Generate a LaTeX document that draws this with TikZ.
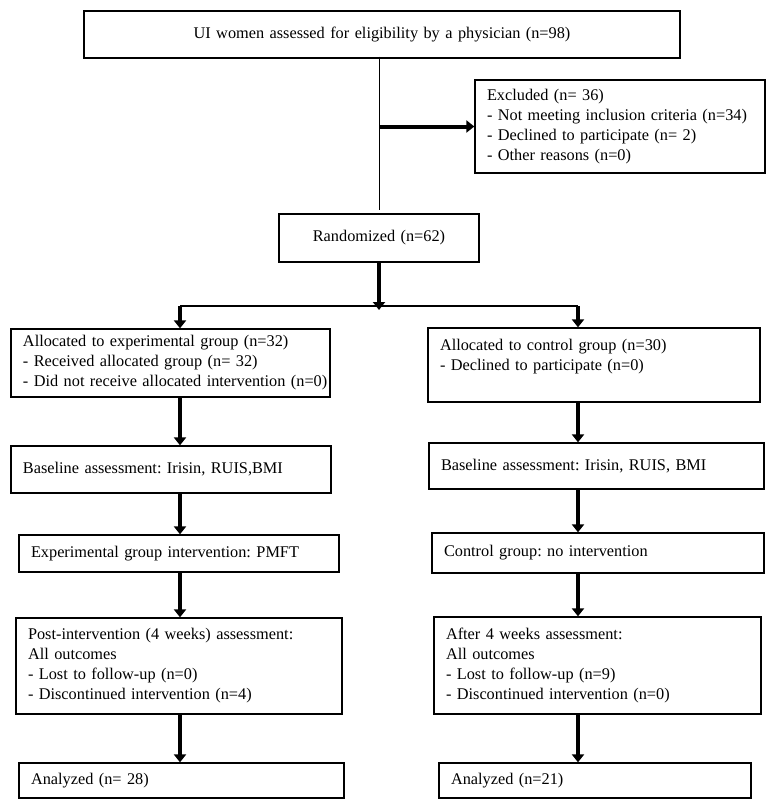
\documentclass[tikz,border=0pt]{standalone}
\usepackage{fontspec}
\setmainfont{Liberation Serif}
\usetikzlibrary{arrows.meta}
\frenchspacing
\begin{document}
\frenchspacing
\begin{tikzpicture}[x=1pt,y=-1pt,
  box/.style n args={3}{draw, line width=1.3pt, inner xsep=12pt, inner ysep=0pt,
    align=left, minimum width=#1pt, minimum height=#2pt, text width=#3pt,
    font=\fontsize{16.3}{20}\selectfont},
  arr/.style={line width=4pt, -{Triangle[length=8pt,width=12pt]}},
  thinline/.style={line width=1pt}]
\useasboundingbox (0,0) rectangle (772,809);

\node[box={596}{47}{572}, align=center] (top) at (382,34.5)
  {UI women assessed for eligibility by a physician (n=98)};
\node[box={290}{93}{266}] (excl) at (620,126.5)
  {Excluded (n= 36)\\\mbox{- Not meeting inclusion criteria (n=34)}\\- Declined to participate (n= 2)\\- Other reasons (n=0)};
\node[box={200}{48}{176}, align=center] (rand) at (379,238) {Randomized (n=62)};

\node[box={319}{68}{295}] (ae) at (170.5,363)
  {\mbox{Allocated to experimental group (n=32)}\\\mbox{- Received allocated group (n= 32)}\\\mbox{- Did not receive allocated intervention (n=0)}};
\node[box={332}{74}{308}] (ac) at (594,365)
  {Allocated to control group (n=30)\\- Declined to participate (n=0)\\\mbox{}};

\node[box={320}{47}{296}] (be) at (171,469.5) {Baseline assessment: Irisin, RUIS,BMI};
\node[box={335}{46}{311}] (bc) at (596.5,466) {Baseline assessment: Irisin, RUIS, BMI};

\node[box={320}{37}{296}] (ie) at (179,553.5) {Experimental group intervention: PMFT};
\node[box={332}{40}{308}] (ic) at (598,553) {Control group: no intervention};

\node[box={326}{96}{302}] (pe) at (179,666)
  {Post-intervention (4 weeks) assessment:\\All outcomes\\- Lost to follow-up (n=0)\\- Discontinued intervention (n=4)};
\node[box={327}{97}{303}] (pc) at (597.5,665.5)
  {After 4 weeks assessment:\\All outcomes\\- Lost to follow-up (n=9)\\- Discontinued intervention (n=0)};

\node[box={325}{35}{301}] (ne) at (181.5,780.5) {Analyzed (n= 28)};
\node[box={312}{35}{288}] (nc) at (595,780.5) {Analyzed (n=21)};

% connectors
\coordinate (lx) at (180,306);
\coordinate (rx) at (578,306);
\coordinate (split) at (379,310);

\draw[thinline] ([yshift=2pt]rand.north |- top.south) -- ([yshift=3pt]rand.north);
\draw[arr] (rand.north |- excl.west) -- (excl.west);
\draw[arr] (rand.south) -- (split);
\draw[line width=1.3pt] (lx) -- (rx);
\draw[arr] (lx) -- (lx |- ae.north);
\draw[arr] (rx) -- (rx |- ac.north);

\draw[arr] (lx |- ae.south) -- (lx |- be.north);
\draw[arr] (rx |- ac.south) -- (rx |- bc.north);
\draw[arr] (lx |- be.south) -- (lx |- ie.north);
\draw[arr] (rx |- bc.south) -- (rx |- ic.north);
\draw[arr] (lx |- ie.south) -- (lx |- pe.north);
\draw[arr] (rx |- ic.south) -- (rx |- pc.north);
\draw[arr] (lx |- pe.south) -- (lx |- ne.north);
\draw[arr] (rx |- pc.south) -- (rx |- nc.north);
\end{tikzpicture}
\end{document}
